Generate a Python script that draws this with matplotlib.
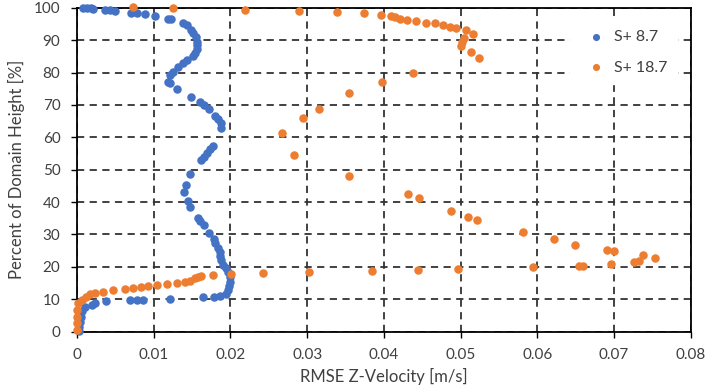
import numpy as np
import matplotlib.pyplot as plt

plt.rcParams['font.family'] = ['Lato', 'DejaVu Sans']

# S+ 8.7 (blue)
s87_x = [0.0008, 0.0013, 0.0018, 0.0021, 0.0036, 0.0043, 0.0050, 0.0070, 0.0078, 0.0088,
         0.0101, 0.0119, 0.0123, 0.0138, 0.0143, 0.0148, 0.0151, 0.0155, 0.0157, 0.0157,
         0.0156, 0.0154, 0.0151, 0.0143, 0.0138, 0.0132, 0.0125, 0.0121, 0.0119, 0.0121,
         0.0130, 0.0148, 0.0160, 0.0165, 0.0172, 0.0180, 0.0184, 0.0188, 0.0188, 0.0177,
         0.0173, 0.0169, 0.0165, 0.0162, 0.0147, 0.0142, 0.0139, 0.0144, 0.0147, 0.0158,
         0.0160, 0.0165, 0.0172, 0.0178, 0.0180, 0.0184, 0.0186, 0.0187, 0.0188, 0.0190,
         0.0194, 0.0197, 0.0200, 0.0200, 0.0198, 0.0197, 0.0194, 0.0186, 0.0178, 0.0164,
         0.0121, 0.0086, 0.0078, 0.0069, 0.0038, 0.0023, 0.0019, 0.0010, 0.0006, 0.0005,
         0.0004, 0.0003, 0.0002]
s87_y = [100.0, 99.9, 99.8, 99.7, 99.4, 99.2, 99.1, 98.5, 98.3, 98.0,
         97.4, 96.7, 96.4, 95.4, 94.7, 93.3, 92.1, 90.9, 89.5, 88.5,
         87.2, 85.9, 85.1, 83.9, 83.0, 81.8, 80.2, 79.2, 77.2, 76.7,
         74.9, 72.5, 71.0, 70.0, 68.9, 66.6, 65.6, 64.3, 62.8, 57.3,
         56.3, 55.1, 54.0, 53.0, 48.7, 45.3, 43.2, 40.3, 38.6, 35.0,
         34.3, 32.9, 30.6, 28.5, 27.5, 25.7, 24.7, 23.4, 22.1, 20.6,
         19.6, 18.5, 17.0, 15.4, 14.1, 12.9, 11.6, 11.0, 10.8, 10.6,
         10.0, 9.8, 9.6, 9.6, 9.3, 8.8, 8.2, 7.7, 6.2, 4.6,
         3.1, 1.5, 0.3]

# S+ 18.7 (orange)
s187_x = [0.0000, 0.0000, 0.0000, 0.0000, 0.0001, 0.0006, 0.0012, 0.0017, 0.0023, 0.0034,
          0.0047, 0.0062, 0.0073, 0.0084, 0.0093, 0.0104, 0.0117, 0.0130, 0.0141, 0.0147,
          0.0154, 0.0158, 0.0162, 0.0177, 0.0201, 0.0242, 0.0302, 0.0384, 0.0445, 0.0497,
          0.0595, 0.0655, 0.0659, 0.0696, 0.0726, 0.0733, 0.0738, 0.0753, 0.0700, 0.0691,
          0.0649, 0.0622, 0.0582, 0.0522, 0.0510, 0.0487, 0.0446, 0.0432, 0.0354, 0.0283,
          0.0267, 0.0295, 0.0315, 0.0355, 0.0398, 0.0438, 0.0524, 0.0514, 0.0501, 0.0502,
          0.0504, 0.0516, 0.0507, 0.0494, 0.0486, 0.0477, 0.0467, 0.0455, 0.0442, 0.0430,
          0.0421, 0.0414, 0.0409, 0.0396, 0.0374, 0.0339, 0.0290, 0.0219, 0.0125, 0.0073]
s187_y = [0.5, 2.6, 4.6, 6.7, 8.8, 9.8, 10.8, 11.6, 12.0, 12.3,
          12.7, 13.1, 13.4, 13.7, 14.1, 14.3, 14.6, 14.9, 15.3, 15.7,
          16.4, 16.8, 17.2, 17.4, 17.8, 18.0, 18.4, 18.7, 19.0, 19.3,
          19.8, 20.1, 20.1, 20.8, 21.6, 21.8, 23.7, 22.8, 24.9, 25.1,
          26.7, 28.5, 30.9, 34.4, 35.5, 37.3, 41.2, 42.5, 48.1, 54.4,
          61.2, 65.9, 68.9, 73.8, 77.2, 80.0, 84.4, 86.2, 88.3, 89.5,
          90.6, 91.9, 93.0, 93.7, 94.2, 94.7, 95.2, 95.4, 96.0, 96.2,
          96.6, 97.1, 97.6, 97.9, 98.3, 98.7, 99.1, 99.4, 100.0, 100.2]

fig = plt.figure(figsize=(7.27, 3.91), dpi=100)
ax = fig.add_axes([0.106, 0.152, 0.844, 0.828])

ax.scatter(s87_x, s87_y, s=26, c='#4472C4', label='S+ 8.7', zorder=3, clip_on=False)
ax.scatter(s187_x, s187_y, s=26, c='#ED7D31', label='S+ 18.7', zorder=3, clip_on=False)

ax.set_xlim(0, 0.08)
ax.set_ylim(0, 100)
ax.set_xticks(np.arange(0, 0.081, 0.01))
ax.set_xticklabels(['0', '0.01', '0.02', '0.03', '0.04', '0.05', '0.06', '0.07', '0.08'])
ax.set_yticks(np.arange(0, 101, 10))
ax.grid(True, color='#333333', linestyle=(0, (4, 3)), linewidth=1.3)
ax.set_axisbelow(True)
for sp in ax.spines.values():
    sp.set_color('black')
    sp.set_linewidth(1.3)
ax.tick_params(axis='both', labelsize=11, color='black', length=4, width=1.0,
               labelcolor='#404040', pad=8)
ax.set_xlabel('RMSE Z-Velocity [m/s]', fontsize=12, color='#404040', labelpad=4)
ax.set_ylabel('Percent of Domain Height [%]', fontsize=12, color='#404040', labelpad=6)

leg = ax.legend(loc='upper right', bbox_to_anchor=(0.99, 0.985), fontsize=11.5, frameon=True,
                handletextpad=0.1, markerscale=0.8, labelspacing=1.0, borderpad=0.6,
                fancybox=False, framealpha=1.0)
leg.get_frame().set_edgecolor('white')
for t in leg.get_texts():
    t.set_color('#404040')

fig.savefig('out.png', dpi=100)
